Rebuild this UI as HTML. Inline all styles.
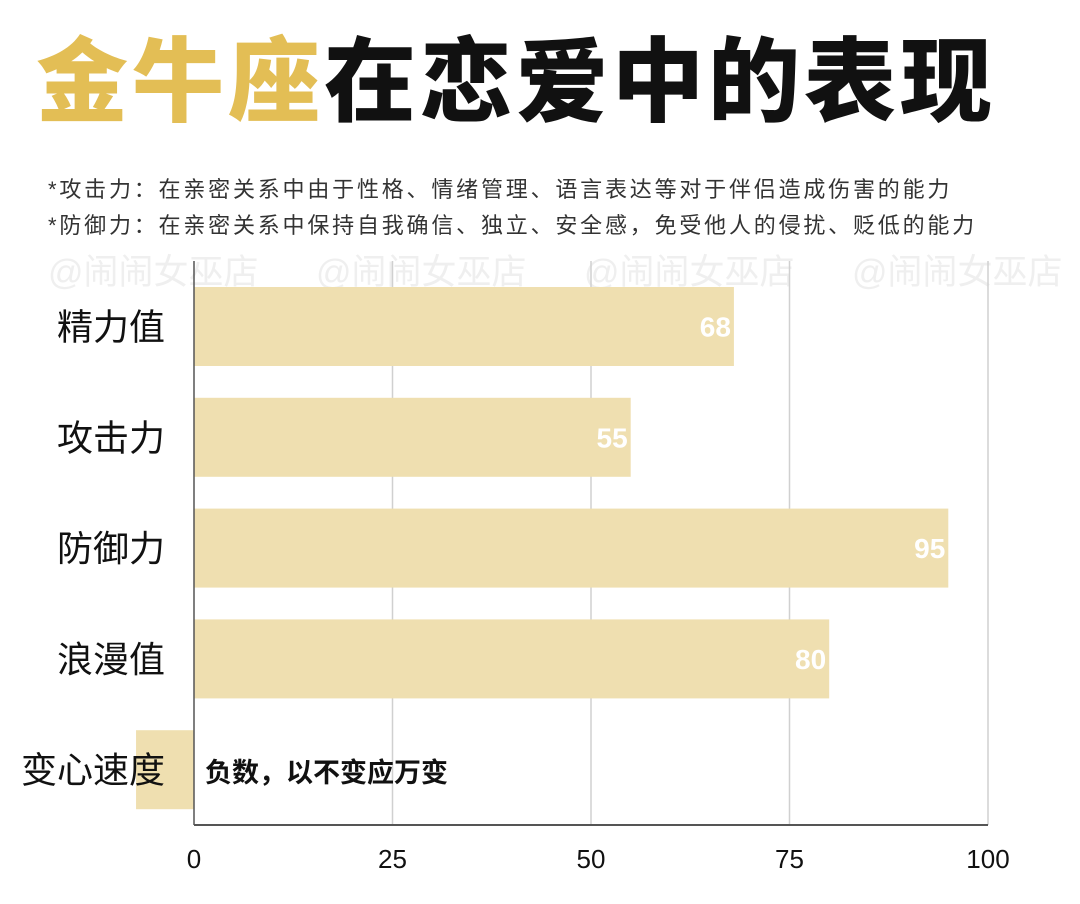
<!DOCTYPE html>
<html><head><meta charset="utf-8"><style>
body{margin:0;width:1080px;height:904px;background:#fff;overflow:hidden;font-family:"Liberation Sans","Noto Sans CJK SC",sans-serif}
.t{position:absolute;white-space:nowrap}
</style></head><body>
<div class="t" style="left:36px;top:28px;font-size:92px;font-weight:900;line-height:110px;letter-spacing:4px"><span style="color:#e3be55">金牛座</span><span style="color:#111">在恋爱中的表现</span></div>
<div class="t" style="left:48px;top:175px;font-size:22px;letter-spacing:2.8px;color:#333;line-height:30px">*攻击力：在亲密关系中由于性格、情绪管理、语言表达等对于伴侣造成伤害的能力</div>
<div class="t" style="left:48px;top:211px;font-size:22px;letter-spacing:2.8px;color:#333;line-height:30px">*防御力：在亲密关系中保持自我确信、独立、安全感，免受他人的侵扰、贬低的能力</div>
<svg id="c" width="1080" height="904" style="position:absolute;left:0;top:0"></svg>
<script>
const categories=["精力值","攻击力","防御力","浪漫值","变心速度"];
const values=[68,55,95,80,-7.3];
const valueLabels=["68","55","95","80",""];
const ticks=[0,25,50,75,100];
const NS="http://www.w3.org/2000/svg";
const svg=document.getElementById('c');
const x=v=>194+v*7.94;
const top0=271,band=110.8;
const yb=i=>top0+i*band;
function el(t,a,p){const e=document.createElementNS(NS,t);for(const k in a)e.setAttribute(k,a[k]);(p||svg).appendChild(e);return e;}
["@闹闹女巫店","@闹闹女巫店","@闹闹女巫店","@闹闹女巫店"].forEach((w,i)=>{const t=el('text',{x:48+i*268,y:284,'font-size':35,fill:'#efefef','font-family':'"Liberation Sans","Noto Sans CJK SC",sans-serif'});t.textContent=w;

});
ticks.forEach(v=>{if(v>0){const l=el('line',{x1:x(v),x2:x(v),y1:top0-10,y2:825,stroke:'#d0d0d0','stroke-width':1.5});

}
const t=el('text',{x:x(v),y:868,'font-size':26,'text-anchor':'middle',fill:'#111'});t.textContent=v;

});
categories.forEach((c,i)=>{const y0=yb(i)+16,h=79,v=values[i];
const r=el('rect',{x:Math.min(x(0),x(v)),y:y0,width:Math.abs(x(v)-x(0)),height:h,fill:'#efdfb0'});


const t=el('text',{x:165,y:y0+h/2+13,'font-size':36,'text-anchor':'end',fill:'#111'});t.textContent=c;


if(valueLabels[i]){const s=el('text',{x:x(v)-3,y:y0+h/2+10,'font-size':28,'font-weight':'bold','text-anchor':'end',fill:'#fff'});s.textContent=valueLabels[i];

}});
const yl=el('line',{x1:x(0),x2:x(0),y1:top0-10,y2:825,stroke:'#555','stroke-width':1.5});


const xl=el('line',{x1:x(0),x2:x(100),y1:825,y2:825,stroke:'#555','stroke-width':2});


const n=el('text',{x:205,y:782,'font-size':27,'font-weight':'bold',fill:'#111'});n.textContent="负数，以不变应万变";


</script>
</body></html>
